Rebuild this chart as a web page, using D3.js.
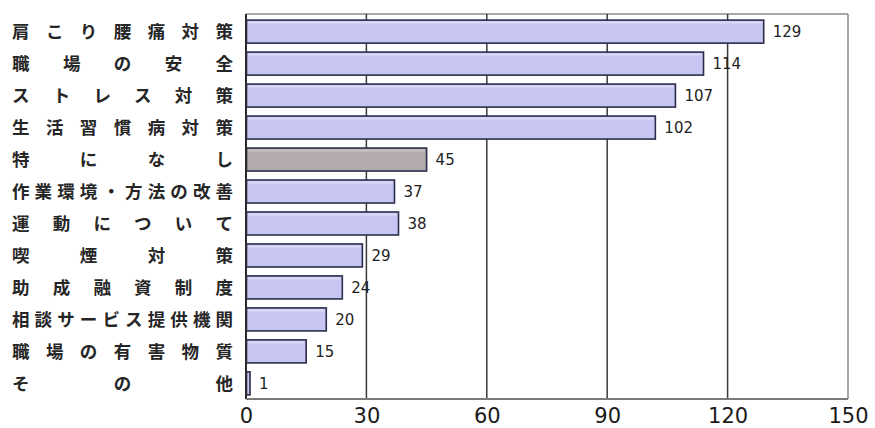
<!DOCTYPE html>
<html>
<head>
<meta charset="utf-8">
<script src="https://cdn.jsdelivr.net/npm/d3@7"></script>
<style>
  html, body { margin: 0; padding: 0; background: #fff; }
  svg { display: block; }
</style>
</head>
<body>
<svg id="chart" width="875" height="428"></svg>
<script>
// Survey topics (top to bottom) and their response counts
const categories = [
  "肩こり腰痛対策", "職場の安全", "ストレス対策", "生活習慣病対策", "特になし",
  "作業環境・方法の改善", "運動について", "喫煙対策", "助成融資制度",
  "相談サービス提供機関", "職場の有害物質", "その他"
];
const values = [129, 114, 107, 102, 45, 37, 38, 29, 24, 20, 15, 1];
const highlighted = ["特になし"];
const tickValues = [0, 30, 60, 90, 120, 150];

const svg = d3.select("#chart");
const margin = { left: 246, right: 27, top: 14, bottom: 29 };
const W = 875, H = 428;
const innerW = W - margin.left - margin.right;
const innerH = H - margin.top - margin.bottom;

const x = d3.scaleLinear().domain([0, 150]).range([0, innerW]);
const y = d3.scaleBand().domain(categories).range([0, innerH]).paddingInner(0.28).paddingOuter(0.16);

const g = svg.append("g").attr("transform", `translate(${margin.left},${margin.top})`);

// Plot frame (top, right)
g.append("line").attr("x1", 0).attr("x2", innerW).attr("y1", 0).attr("y2", 0)
  .attr("stroke", "#8a8a8a").attr("stroke-width", 1.5);
g.append("line").attr("x1", innerW).attr("x2", innerW).attr("y1", 0).attr("y2", innerH)
  .attr("stroke", "#8a8a8a").attr("stroke-width", 1.5);

// Vertical gridlines
g.selectAll("line.grid").data(tickValues.filter(t => t > 0 && t < 150)).join("line")
  .attr("class", "grid")
  .attr("x1", d => x(d)).attr("x2", d => x(d))
  .attr("y1", 0).attr("y2", innerH)
  .attr("stroke", "#3a3a3a").attr("stroke-width", 1.5);

// Bars
g.selectAll("rect.bar").data(values).join("rect")
  .attr("class", "bar")
  .attr("x", 0.5)
  .attr("y", (d, i) => y(categories[i]) + 1)
  .attr("width", d => Math.max(x(d) - 0.5, 1.5))
  .attr("height", y.bandwidth())
  .attr("fill", (d, i) => highlighted.includes(categories[i]) ? "#b3aaad" : "#c7c5f1")
  .attr("stroke", "#2c2c4c")
  .attr("stroke-width", 1.6);

// Light top edge on each bar
g.selectAll("line.hl").data(values).join("line")
  .attr("class", "hl")
  .attr("x1", 2).attr("x2", d => Math.max(x(d) - 2, 2))
  .attr("y1", (d, i) => y(categories[i]) + 3.5)
  .attr("y2", (d, i) => y(categories[i]) + 3.5)
  .attr("stroke", (d, i) => highlighted.includes(categories[i]) ? "#c9c2c4" : "#dcdaf8")
  .attr("stroke-width", 2);

// Value labels
g.selectAll("text.val").data(values).join("text")
  .attr("class", "val")
  .attr("x", d => x(d) + 9)
  .attr("y", (d, i) => y(categories[i]) + 1 + y.bandwidth() / 2)
  .attr("dy", "0.36em")
  .attr("font-family", "DejaVu Sans, sans-serif")
  .attr("font-size", 15)
  .attr("fill", "#1e1e1e")
  .text(d => d);

// Left axis line and bottom axis line
g.append("line").attr("x1", 0).attr("x2", 0).attr("y1", 0).attr("y2", innerH)
  .attr("stroke", "#2a2a2a").attr("stroke-width", 2);
g.append("line").attr("x1", 0).attr("x2", innerW).attr("y1", innerH).attr("y2", innerH)
  .attr("stroke", "#7a7a7a").attr("stroke-width", 2);

// Bottom tick labels
const xAxis = d3.axisBottom(x).tickValues(tickValues).tickSize(0).tickPadding(9);
const ax = g.append("g").attr("transform", `translate(0,${innerH})`).call(xAxis);
ax.select(".domain").remove();
ax.selectAll("text")
  .attr("font-family", "DejaVu Sans, sans-serif")
  .attr("font-size", 21)
  .attr("fill", "#1a1a1a");

// Category labels, spread evenly across a fixed width
const labelLeft = 12, labelRight = 233, fs = 17.5;
categories.forEach((cat, i) => {
  const chars = Array.from(cat);
  const n = chars.length;
  const cy = margin.top + y(cat) + 1 + y.bandwidth() / 2;
  const step = n > 1 ? (labelRight - labelLeft - fs) / (n - 1) : 0;
  chars.forEach((ch, j) => {
    svg.append("text")
      .attr("x", labelLeft + fs / 2 + j * step)
      .attr("y", cy)
      .attr("dy", "0.36em")
      .attr("text-anchor", "middle")
      .attr("font-family", "Noto Sans CJK JP, sans-serif")
      .attr("font-weight", 700)
      .attr("font-size", fs)
      .attr("fill", "#262626")
      .text(ch);
  });
});
</script>
</body>
</html>
